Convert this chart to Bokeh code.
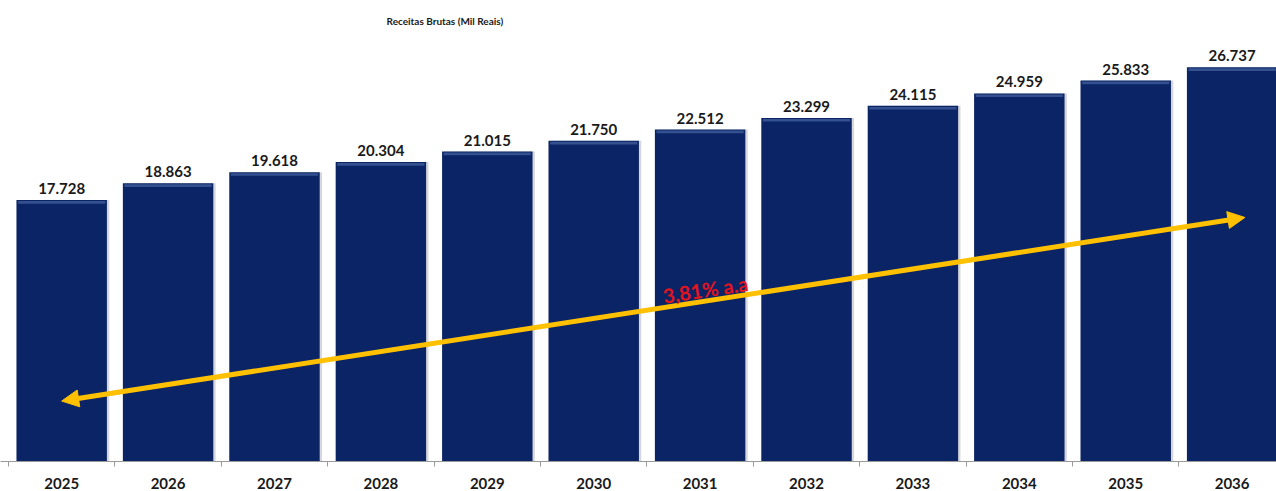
from bokeh.plotting import figure
from bokeh.models import (ColumnDataSource, Range1d, FixedTicker, Arrow, NormalHead,
                          Label)
from bokeh.transform import dodge
from bokeh.embed import file_html
from bokeh.resources import INLINE
from bokeh.core.properties import value

# ---- data ----
years = ["2025", "2026", "2027", "2028", "2029", "2030",
         "2031", "2032", "2033", "2034", "2035", "2036"]
receitas = [17.728, 18.863, 19.618, 20.304, 21.015, 21.750,
            22.512, 23.299, 24.115, 24.959, 25.833, 26.737]
value_labels = ["17.728", "18.863", "19.618", "20.304", "21.015", "21.750",
                "22.512", "23.299", "24.115", "24.959", "25.833", "26.737"]
title_text = "Receitas Brutas (Mil Reais)"
growth_text = "3,81% a.a"
# trend arrow (position x, value y)
trend_x = [1.0, 12.12]
trend_y = [4.1, 16.55]
growth_label_pos = (7.05, 11.68)
title_pos = (4.053, 29.9)

xs = list(range(1, len(years) + 1))
src = ColumnDataSource(dict(
    x=xs, top=receitas, label=value_labels,
    hl_top=[v - 0.07 for v in receitas], hl_bot=[v - 0.25 for v in receitas],
))

NAVY = "#0A2465"

p = figure(width=1276, height=491, output_backend="svg", toolbar_location=None,
           x_range=Range1d(0.425, 12.417), y_range=Range1d(0, 31.26),
           min_border_top=0, min_border_left=0, min_border_right=0,
           min_border_bottom=20)
p.outline_line_color = None
p.xgrid.visible = False
p.ygrid.visible = False
p.yaxis.visible = False
p.background_fill_color = "white"
p.border_fill_color = "white"

p.add_layout(Label(x=title_pos[0], y=title_pos[1], text=title_text,
                   text_align="left", text_baseline="middle",
                   text_font="Lato", text_font_size="10px", text_font_style="bold",
                   text_color="#1a1a1a"))

# shadow
p.vbar(x=dodge("x", 0.022), top="top", bottom=-0.12, width=0.85, source=src,
       fill_color="#b9bcc4", line_color=None, fill_alpha=0.6)
# bars
p.vbar(x="x", top="top", bottom=0, width=0.85, source=src,
       fill_color=NAVY, line_color=None)
# top bevel highlight
p.vbar(x="x", top="hl_top", bottom="hl_bot", width=0.82, source=src,
       fill_color="#34508F", line_color=None)

# value labels
p.text(x="x", y="top", text="label", source=src, y_offset=-6,
       text_align="center", text_baseline="bottom",
       text_font=value("Lato"), text_font_size="15px", text_font_style="bold",
       text_color="#1a1a1a")

# x axis
ax = p.xaxis[0]
ax.ticker = FixedTicker(ticks=xs, minor_ticks=[x - 0.5 for x in xs] + [12.5])
ax.major_label_overrides = {x: y for x, y in zip(xs, years)}
ax.major_tick_out = 0
ax.major_tick_in = 0
ax.minor_tick_out = 5
ax.minor_tick_in = 0
ax.minor_tick_line_color = "#9a9a9a"
ax.axis_line_color = "#9a9a9a"
ax.axis_line_width = 1.2
ax.major_label_standoff = 11
ax.major_label_text_font = "Lato"
ax.major_label_text_font_size = "15px"
ax.major_label_text_font_style = "bold"
ax.major_label_text_color = "#1a1a1a"

# trend arrow
YEL = "#FFC000"
p.add_layout(Arrow(x_start=trend_x[0], y_start=trend_y[0], x_end=trend_x[1], y_end=trend_y[1],
                   line_color=YEL, line_width=5,
                   start=NormalHead(size=17, fill_color=YEL, line_color=YEL),
                   end=NormalHead(size=17, fill_color=YEL, line_color=YEL)))

p.add_layout(Label(x=growth_label_pos[0], y=growth_label_pos[1], text=growth_text,
                   angle=0.152, text_align="center", text_baseline="middle",
                   text_font="Lato", text_font_size="20px", text_font_style="bold",
                   text_color="#E3141E"))

open("out.html", "w").write(file_html(p, INLINE))
